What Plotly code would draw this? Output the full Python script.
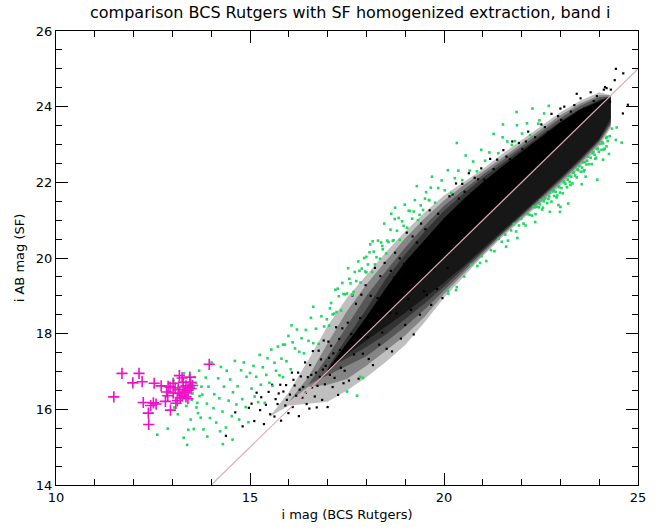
import plotly.graph_objects as go

# ---------------- data ----------------
# Density envelopes of the black cloud, as offsets (y - x) from the 1:1 line
gx = [15.5, 16.0, 16.5, 17.0, 17.5, 18.0, 18.5, 19.0, 19.5, 20.0, 20.5, 21.0, 21.5, 22.0, 22.5,
      23.0, 23.5, 24.0, 24.3]
l1_up = [0.3, 0.45, 0.8, 1.2, 1.45, 1.55, 1.65, 1.7, 1.7, 1.65, 1.5, 1.35, 1.25, 1.1, 0.98, 0.85, 0.65, 0.38, 0.0]
l1_lo = [0.3, 0.1, -0.35, -0.8, -1.0, -1.15, -1.25, -1.3, -1.2, -1.05, -1.0, -0.95, -0.95, -1.0, -1.05,
         -1.1, -1.1, -1.05, -0.85]
l2_up = [0.2, 0.2, 0.35, 0.75, 1.1, 1.3, 1.42, 1.52, 1.55, 1.52, 1.42, 1.28, 1.15, 1.02, 0.9, 0.77, 0.58, 0.3, 0.0]
l2_lo = [0.2, 0.2, 0.1, -0.35, -0.7, -0.85, -0.95, -1.05, -1.05, -0.95, -0.92, -0.9, -0.9, -0.95, -1.0,
         -1.02, -1.02, -0.98, -0.8]
l3_up = [0.15, 0.15, 0.15, 0.4, 0.7, 1.0, 1.15, 1.28, 1.35, 1.38, 1.3, 1.2, 1.08, 0.95, 0.83, 0.7, 0.52, 0.25, -0.03]
l3_lo = [0.15, 0.15, 0.15, -0.1, -0.35, -0.6, -0.72, -0.82, -0.86, -0.85, -0.85, -0.85, -0.86, -0.9, -0.94,
         -0.96, -0.96, -0.92, -0.75]
l4_up = [0.1, 0.1, 0.1, 0.1, 0.4, 0.65, 0.95, 1.1, 1.2, 1.25, 1.2, 1.12, 1.0, 0.88, 0.75, 0.62, 0.44, 0.18, -0.06]
l4_lo = [0.1, 0.1, 0.1, 0.1, -0.15, -0.35, -0.52, -0.62, -0.7, -0.75, -0.78, -0.8, -0.82, -0.86, -0.9,
         -0.92, -0.92, -0.88, -0.7]
core_x = [17.0, 17.5, 18.0, 18.5, 19.0, 19.5, 20.0, 20.5, 21.0, 21.5, 22.0, 22.5, 23.0, 23.5, 24.0, 24.3]
core_up = [0.05, 0.25, 0.45, 0.7, 0.9, 0.98, 1.05, 1.05, 1.0, 0.92, 0.8, 0.7, 0.58, 0.42, 0.14, -0.02]
core_lo = [0.0, -0.05, -0.18, -0.32, -0.45, -0.55, -0.65, -0.72, -0.76, -0.78, -0.82, -0.86, -0.88, -0.88,
           -0.85, -0.6]

# individual black points (sparse parts and fringes)
black_left = [(14.38,15.30),(14.81,15.55),(14.97,16.04),(14.62,15.92),
    (15.04,16.15),(15.11,15.69),(15.17,16.44),(15.26,15.98),(15.29,16.32),(15.36,15.61),(15.41,16.12),
    (15.48,16.46),(15.52,15.87),(15.57,16.65),(15.63,15.81),(15.66,16.27),(15.71,16.14),(15.78,16.65),
    (15.80,15.70),(15.86,16.47),(15.91,16.10),(15.93,16.64),(15.99,15.90),(16.03,16.39),(16.08,16.97),
    (16.10,16.06),(16.15,16.63),(16.19,16.36),(16.24,16.97),(16.26,15.82),(16.31,16.87),(16.35,16.31),
    (16.37,16.59),(16.42,17.24),(16.46,16.14),(16.49,16.85),(16.53,16.02),(16.55,17.17),(16.60,16.58),
    (16.62,17.54),(16.67,16.34),(16.70,16.97),(16.72,16.05),(16.77,17.55),(16.80,16.86),(16.83,17.32),
    (16.86,16.25),(16.90,17.82),(16.93,16.66),(16.95,17.15),(17.00,16.06),(17.02,17.79),(17.06,16.91),
    (17.09,17.68),(17.13,16.59),(17.15,17.48),(17.19,17.24),(17.22,18.17),(17.27,16.38),(17.30,17.86),
    (17.34,17.10),(17.38,18.14),(17.41,16.69),(17.46,17.65),
    (15.74,16.42),(15.95,16.25),(16.12,16.78),(16.28,16.52),(16.44,16.44),(16.58,16.91),(16.74,16.62),
    (16.88,17.05),(17.04,17.36),(17.18,16.83),(17.32,17.57),(17.44,17.02)]
black_mid = [(17.52,18.29),(17.55,16.76),(17.61,17.99),(17.64,19.01),(17.68,17.45),(17.73,18.79),(17.75,17.86),
    (17.80,16.81),(17.84,18.41),(17.87,19.03),(17.91,17.47),(17.96,18.21),(17.98,19.28),(18.03,17.91),
    (18.06,17.33),(18.11,19.00),(18.14,18.60),(18.17,17.17),(18.22,19.74),(18.25,18.26),(18.29,18.94),
    (18.33,17.71),(18.36,19.52),(18.41,18.03),(18.44,18.72),(18.47,19.87),(18.52,17.60),(18.55,19.10),
    (18.60,18.54),(18.63,19.66),(18.66,17.53),(18.71,19.48),(18.74,20.14),(18.78,18.53),(18.81,18.94),
    (18.86,19.99),(18.89,17.87),(18.93,19.38),(18.97,19.84),(19.00,18.23),(19.04,20.67),(19.08,18.91),
    (19.11,19.50),(19.15,18.63),(19.19,20.57),(19.22,17.98),(19.27,19.96),(19.30,20.41),(19.33,19.37),
    (19.38,18.50),(19.41,20.91),(19.45,19.72),(19.49,19.12),(19.52,20.76),(19.56,19.02),(19.60,20.17),
    (19.63,21.26),(19.67,18.76),(19.71,20.66),(19.74,19.71),(19.78,20.25),(19.82,19.18),(19.85,21.17),
    (19.89,20.13),(19.93,20.71),(19.96,18.94),(20.01,21.02),(20.05,20.68),(20.09,19.74),(20.14,21.63)]
black_fringe = [(20.22,21.68),(20.31,21.97),(20.38,21.57),(20.47,21.96),(20.53,21.75),(20.64,22.24),
    (20.71,21.71),(20.79,22.12),(20.88,22.08),(20.96,22.37),(21.04,22.07),(21.13,21.97),(21.19,22.62),
    (21.28,22.35),(21.37,22.60),(21.44,22.31),(21.53,22.85),(21.61,22.68),(21.70,22.61),(21.76,23.08),
    (21.85,22.59),(21.93,23.04),(22.02,22.88),(22.11,23.08),(22.17,23.34),(22.26,22.97),(22.35,23.19),
    (22.43,22.97),(22.51,23.53),(22.60,23.46),(22.68,23.32),(22.77,23.81),(22.85,23.37),(22.94,23.75),
    (23.02,23.65),(23.10,24.00),(23.19,23.53),(23.27,23.87),(23.36,24.04),(23.45,23.80),(23.52,24.22),
    (23.61,23.95),(23.69,23.77),(23.78,24.38),(23.86,24.15),(23.94,24.28),(24.03,24.03),(24.12,24.45),
    (24.43,25.00),(24.19,24.49),(24.61,23.82),(24.28,24.13),(23.42,24.34),(23.00,23.95),(24.74,24.05),
    (24.40,24.70),(24.62,24.88),(24.30,24.45),(24.15,24.52)]

green_left = [(12.61,15.33),(12.88,15.49),(13.03,16.76),(13.14,15.87),(13.22,16.45),(13.29,15.25),(13.36,16.09),
    (13.41,16.65),(13.47,15.73),(13.52,16.42),(13.55,15.48),(13.61,16.70),(13.64,16.17),(13.69,17.02),
    (13.73,15.78),(13.77,16.39),(13.80,15.47),(13.86,16.84),(13.89,16.15),(13.93,16.60),(13.97,15.77),
    (14.01,17.24),(14.06,16.03),(14.08,16.40),(14.13,15.65),(14.18,16.82),(14.21,16.29),(14.25,17.12),
    (14.29,15.94),(14.33,16.60),(14.38,15.52),(14.40,17.02),(14.45,16.23),(14.49,16.79),(14.53,15.82),
    (14.56,16.45),(14.61,17.28),(14.65,16.13),(14.68,16.61),(14.72,15.73),(14.77,17.03),(14.80,16.27),
    (14.84,17.24),(14.89,16.06),(14.91,16.86),(14.96,15.66),(15.00,16.96),(15.04,16.55),(15.09,17.15),
    (15.12,16.34),(15.16,16.86),(15.21,16.19),(15.25,17.44),(15.28,16.65),(15.33,17.11),(15.38,16.17),
    (15.42,16.91),(15.45,17.35),(15.50,16.70),(15.55,17.58),(15.58,16.62),(15.63,17.23),(15.67,17.02),
    (15.72,17.66),(15.76,16.90),(15.81,17.34),(15.85,16.85),(15.90,17.71),(15.94,17.27),(15.99,17.94),
    (16.05,17.06),(16.10,17.77),(16.16,17.61),(16.21,18.11),(16.27,17.52),(16.33,17.88),(16.39,17.48),
    (16.44,18.10),(16.51,17.81),(16.57,18.42),(16.63,17.75),(16.70,18.13),(16.77,17.73),(16.84,18.46),
    (16.91,18.19),(13.38,15.06),(13.41,15.46),(14.23,15.42),(14.55,15.20),(13.90,15.28),(14.30,15.08),
    (13.05,16.05),(13.20,16.30),(13.30,16.95),(12.95,16.45),(13.45,16.90),(13.55,16.62),(13.62,16.05),
    (13.70,16.35),(13.58,16.85),(13.66,15.90),(13.75,16.60),(13.50,16.25),(17.84,16.86),(17.91,16.83),
    (17.50,16.47),(17.76,16.36),(16.63,18.71),(16.07,18.22),(15.85,17.71)]
green_upper = [(16.98,18.38),(17.04,18.21),(17.09,18.81),(17.13,18.51),(17.20,19.16),(17.23,18.57),(17.29,18.99),
    (17.35,18.61),(17.38,19.34),(17.44,19.04),(17.50,19.06),(17.53,19.73),(17.59,19.33),(17.63,19.03),
    (17.70,19.63),(17.74,19.39),(17.79,19.91),(17.85,19.35),(17.88,19.72),(17.94,20.00),(18.00,19.62),
    (18.04,19.83),(18.10,20.36),(18.15,19.63),(18.19,20.17),(18.26,20.02),(18.30,20.46),(18.35,19.98),
    (18.41,20.32),(18.46,20.91),(18.51,20.12),(18.57,20.42),(18.62,20.75),(18.68,20.45),(18.73,21.03),
    (18.79,20.72),(18.86,20.48),(18.92,20.97),(18.99,21.41),(19.05,20.80),(19.12,21.24),(19.18,21.04),
    (19.25,21.53),(19.33,21.00),(19.40,21.39),(19.46,21.27),(19.54,21.74),(19.62,21.53),(19.69,22.15),
    (19.77,21.46),(19.85,21.85),(19.94,22.05),(20.02,21.79),(20.10,22.32),(20.19,21.72),(20.28,22.11),
    (20.37,22.31),(20.47,22.06),(20.56,22.71),(20.66,22.31),(20.75,22.55),(20.85,22.29),(20.96,22.86),
    (21.06,22.57),(21.17,22.79),(21.28,23.28),(21.40,22.77),(21.51,23.19),(21.63,23.08),(21.75,22.99),
    (21.88,23.51),(22.01,23.29),(22.14,23.56),(22.28,23.95),(22.43,23.55),(22.58,23.82),
    (17.06,18.67),(17.17,18.53),(17.26,19.19),(17.41,19.05),(17.56,19.45),(17.67,19.10),(17.82,19.66),
    (17.97,19.64),(18.08,20.15),(18.22,19.83),(18.38,20.41),(18.54,20.46),(18.70,20.47),(18.83,21.06),
    (18.96,20.85),(19.09,21.25),(19.22,21.23),(19.37,21.14),(19.51,21.57),(19.66,21.86),
    (20.33,23.04),(21.87,23.86),(21.52,23.53),(19.30,21.90),(18.74,21.33),(18.64,21.17),(19.61,21.53),
    (18.42,20.23),(18.16,20.44),(18.00,20.03),(22.46,23.64),(22.22,23.25),(21.83,23.09),(22.70,24.02)]
green_lower = [(20.10,19.13),(20.31,19.15),(20.52,19.51),(20.70,19.82),(20.86,19.79),(20.97,20.05),(21.09,19.92),
    (21.21,20.21),(21.30,20.18),(21.41,20.51),(21.49,20.43),(21.58,20.62),(21.65,20.46),(21.73,20.73),
    (21.80,20.90),(21.86,20.70),(21.93,20.86),(21.99,21.04),(22.05,20.91),(22.10,20.86),(22.16,21.16),
    (22.21,21.14),(22.27,21.12),(22.31,21.36),(22.36,21.16),(22.40,21.35),(22.45,21.34),(22.49,21.52),
    (22.53,21.28),(22.57,21.50),(22.61,21.58),(22.66,21.45),(22.69,21.56),(22.73,21.73),(22.77,21.49),
    (22.81,21.76),(22.84,21.64),(22.88,21.75),(22.92,21.65),(22.95,21.90),(22.99,21.73),(23.03,21.85),
    (23.06,21.71),(23.10,22.00),(23.13,21.96),(23.17,21.87),(23.21,22.17),(23.24,22.01),(23.28,22.15),
    (23.31,21.97),(23.35,22.27),(23.38,22.18),(23.42,22.13),(23.46,22.32),(23.49,22.43),(23.53,22.28),
    (23.56,22.39),(23.60,22.29),(23.63,22.53),(23.67,22.47),(23.71,22.68),(23.74,22.48),(23.78,22.65),
    (23.81,22.48),(23.85,22.80),(23.88,22.73),(23.92,22.65),(23.95,22.88),(23.99,22.81),(24.03,23.02),
    (24.06,22.86),(24.10,23.03),(24.14,22.89),(24.18,23.17),(24.22,23.09),(24.27,23.22),(24.33,23.42),
    (22.34,21.34),(22.47,21.42),(22.59,21.57),(22.71,21.63),(22.83,21.79),(22.97,21.87),(23.08,22.02),
    (23.19,22.07),(23.33,22.25),(23.44,22.34),(23.58,22.53),(23.69,22.57),(23.83,22.77),(23.97,22.89),
    (24.08,23.06),(24.20,23.20),(22.55,21.33),(22.90,21.60),(23.26,21.93),(23.62,22.32),(23.90,22.62),
    (24.12,22.87),(23.95,22.07),(23.20,21.44),(23.00,21.35),(22.73,21.22),(22.99,21.22),(24.43,23.12),
    (24.58,23.05),(24.45,23.45),(24.10,22.60),(23.55,21.95),(22.95,21.40),(24.19,22.95),(21.89,20.53),
    (20.33,19.23),(20.93,19.87),(20.11,19.06),(23.65,22.15),(24.25,22.75),(22.35,20.95),(21.60,20.30)]

magenta_x = [13.95, 11.70, 12.14, 11.98, 12.22, 12.53, 12.71, 12.89, 13.02, 13.18, 13.25, 13.45, 13.47,
             13.52, 13.44, 13.28, 13.07, 12.85, 12.88, 13.18, 13.32, 13.40, 13.20, 13.13, 13.09, 12.82,
             12.25, 12.51, 12.44, 12.58, 11.49, 12.95, 12.38, 12.39, 12.94, 13.28, 13.35, 13.02, 13.35,
             13.40, 13.15, 13.25, 13.48]
magenta_y = [17.19, 16.95, 16.95, 16.70, 16.73, 16.69, 16.62, 16.61, 16.69, 16.89, 16.83, 16.85, 16.71,
             16.63, 16.56, 16.59, 16.57, 16.46, 16.36, 16.42, 16.45, 16.50, 16.31, 16.23, 16.16, 16.21,
             16.18, 16.17, 16.10, 16.14, 16.33, 15.98, 15.90, 15.60, 16.59, 16.72, 16.33, 16.43, 16.62,
             16.28, 16.52, 16.38, 16.55]

diag = [14, 25]

# ---------------- figure ----------------
fig = go.Figure()


def band(xs, off_lo, off_hi, color):
    lo = [x + d for x, d in zip(xs, off_lo)]
    hi = [x + d for x, d in zip(xs, off_hi)]
    fig.add_trace(go.Scatter(x=xs + xs[::-1], y=lo + hi[::-1], mode="lines", fill="toself",
                             fillcolor=color, line=dict(width=0), hoverinfo="skip"))


band(gx, l1_lo, l1_up, "rgba(0,0,0,0.25)")
band(gx, l2_lo, l2_up, "rgba(0,0,0,0.30)")
band(gx, l3_lo, l3_up, "rgba(0,0,0,0.35)")
band(gx, l4_lo, l4_up, "rgba(0,0,0,0.40)")
band(core_x, core_lo, [0] * len(core_x), "rgba(0,0,0,0.55)")
band(core_x, [0] * len(core_x), core_up, "rgba(0,0,0,1)")

black_pts = black_left + black_mid + black_fringe
fig.add_trace(go.Scatter(x=[p[0] for p in black_pts], y=[p[1] for p in black_pts], mode="markers",
                         marker=dict(symbol="square", size=2.2, color="black", line=dict(width=0))))

green_pts = green_left + green_upper + green_lower
fig.add_trace(go.Scatter(x=[p[0] for p in green_pts], y=[p[1] for p in green_pts], mode="markers",
                         marker=dict(symbol="square", size=2.6, color="#1fd860", line=dict(width=0))))

fig.add_trace(go.Scatter(x=diag, y=diag, mode="lines", line=dict(color="#dcaeb4", width=1.2)))

fig.add_trace(go.Scatter(x=magenta_x, y=magenta_y, mode="markers",
                         marker=dict(symbol="cross-thin", size=8,
                                     line=dict(color="#f010c8", width=1.6))))

font = "DejaVu Sans"
axis_common = dict(showline=True, linecolor="black", linewidth=1, mirror="ticks",
                   ticks="inside", tickcolor="black", tickwidth=1, ticklen=12,
                   showgrid=False, zeroline=False,
                   tickfont=dict(family=font, size=13, color="black"))

fig.update_layout(
    width=662, height=532,
    margin=dict(l=56, r=24, t=31, b=39),
    paper_bgcolor="white", plot_bgcolor="white",
    showlegend=False,
    title=dict(text="comparison BCS Rutgers with SF homogenized extraction, band i",
               x=0.529, xanchor="center", y=0.977, yanchor="middle",
               font=dict(family=font, size=16, color="black")),
    xaxis=dict(range=[10, 25], tick0=10, dtick=5,
               minor=dict(dtick=1, ticks="inside", ticklen=6, tickcolor="black"),
               title=dict(text="i mag (BCS Rutgers)", standoff=6,
                          font=dict(family=font, size=13, color="black")),
               **axis_common),
    yaxis=dict(range=[14, 26], tick0=14, dtick=2,
               minor=dict(dtick=0.5, ticks="inside", ticklen=6, tickcolor="black"),
               title=dict(text="i AB mag (SF)", standoff=8,
                          font=dict(family=font, size=13, color="black")),
               **axis_common),
)

fig.write_html("out.html")
